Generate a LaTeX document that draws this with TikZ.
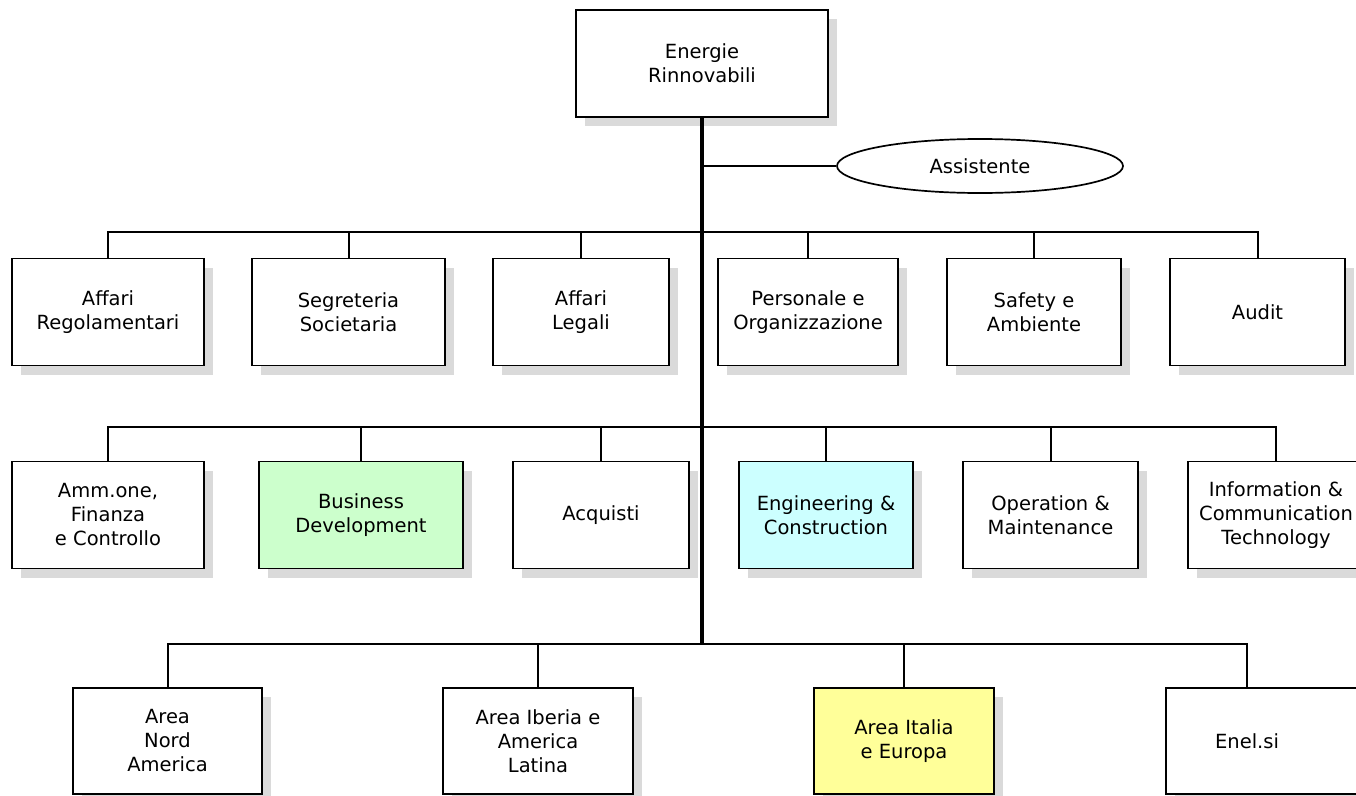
\documentclass[tikz,border=0pt]{standalone}
\usepackage{fontspec}
\setmainfont{DejaVu Sans}
\usetikzlibrary{shapes.geometric,shadows}
\definecolor{shadowgray}{RGB}{218,218,218}
\definecolor{bdgreen}{RGB}{204,255,204}
\definecolor{eccyan}{RGB}{204,255,255}
\definecolor{ityellow}{RGB}{255,255,153}
\tikzset{
  orgbox/.style={draw, line width=1.3pt, fill=white, align=center, inner sep=0pt,
    minimum height=107pt, font=\fontsize{19.5}{24}\selectfont,
    drop shadow={shadow xshift=9pt, shadow yshift=-9pt, fill=shadowgray, opacity=1}},
  link/.style={line width=2pt},
  trunkline/.style={line width=3.3pt},
}
\begin{document}
\begin{tikzpicture}[x=1pt,y=-1pt]
\useasboundingbox (0,0) rectangle (1356,795);
\clip (0,0) rectangle (1356,795);
\fill[white] (0,0) rectangle (1356,795);

% top
\node[orgbox, minimum width=252pt] (top) at (702,63.5) {Energie\\Rinnovabili};
\node[draw, ellipse, line width=1.7pt, fill=white, inner sep=0pt, minimum width=286pt, minimum height=54pt,
  font=\fontsize{19.5}{24}\selectfont] (asst) at (980,166) {Assistente};

\coordinate (ba) at (702,166);
\coordinate (b1) at (702,232);
\coordinate (b2) at (702,427);
\coordinate (b3) at (702,644);

% row 1
\node[orgbox, minimum width=192pt] (ar) at (108,312) {Affari\\Regolamentari};
\node[orgbox, minimum width=193pt] (ss) at (348.5,312) {Segreteria\\Societaria};
\node[orgbox, minimum width=176pt] (al) at (581,312) {Affari\\Legali};
\node[orgbox, minimum width=180pt] (po) at (808,312) {Personale e\\Organizzazione};
\node[orgbox, minimum width=174pt] (sa) at (1034,312) {Safety e\\Ambiente};
\node[orgbox, minimum width=175pt] (au) at (1257.5,312) {Audit};

% row 2
\node[orgbox, minimum width=192pt] (af) at (108,515) {Amm.one,\\Finanza\\e Controllo};
\node[orgbox, minimum width=204pt, fill=bdgreen] (bd) at (361,515) {Business\\Development};
\node[orgbox, minimum width=176pt] (aq) at (601,515) {Acquisti};
\node[orgbox, minimum width=174pt, fill=eccyan] (ec) at (826,515) {Engineering \&\\Construction};
\node[orgbox, minimum width=175pt] (om) at (1050.5,515) {Operation \&\\Maintenance};
\node[orgbox, minimum width=176pt] (ict) at (1276,515) {Information \&\\Communication\\Technology};

% row 3
\node[orgbox, minimum width=189pt, minimum height=106pt] (na) at (167.5,741) {Area\\Nord\\America};
\node[orgbox, minimum width=190pt, minimum height=106pt] (ib) at (538,741) {Area Iberia e\\America\\Latina};
\node[orgbox, minimum width=180pt, minimum height=106pt, fill=ityellow] (it) at (904,741) {Area Italia\\e Europa};
\node[orgbox, minimum width=200pt, minimum height=106pt] (en) at (1266,741) {Enel.si\hspace*{38pt}};

% connectors
\draw[trunkline] (top.south) -- (b3);
\draw[link] (ba) -- (asst.west);
\foreach \n in {ar,ss,al,po,sa,au} \draw[link] (b1) -| (\n.north);
\foreach \n in {af,bd,aq,ec,om,ict} \draw[link] (b2) -| (\n.north);
\foreach \n in {na,ib,it} \draw[link] (b3) -| (\n.north);
\draw[link] (b3) -| ([xshift=-19pt]en.north);
\end{tikzpicture}
\end{document}
